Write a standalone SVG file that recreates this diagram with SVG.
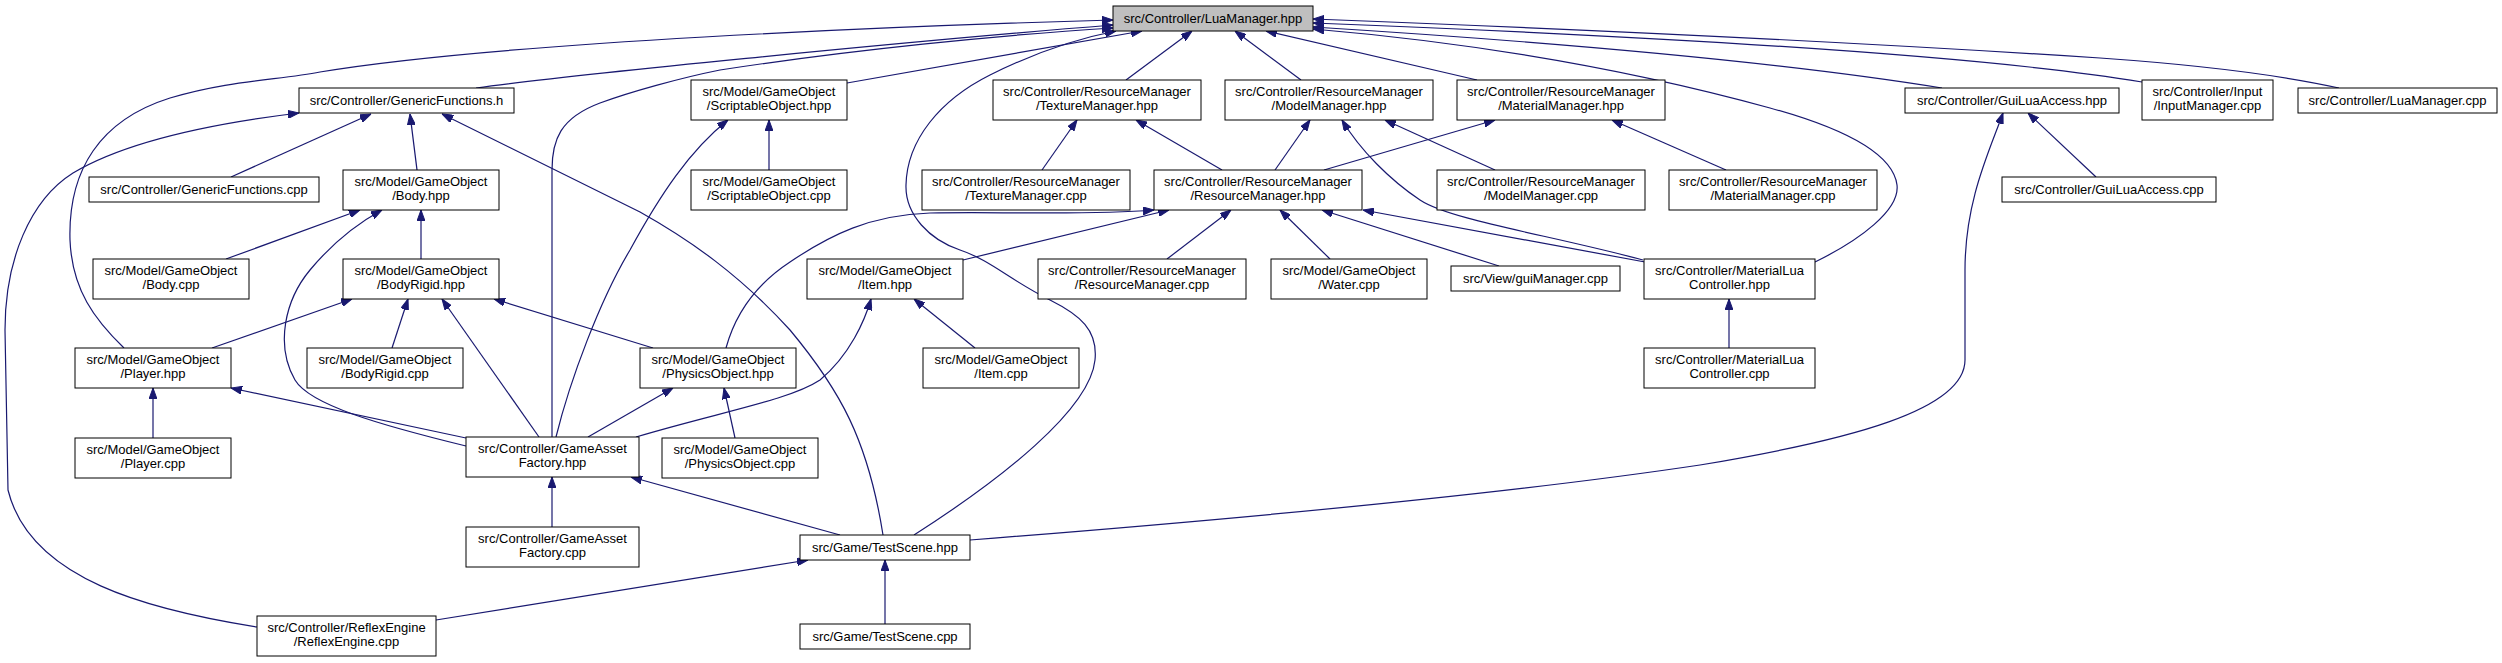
<svg xmlns="http://www.w3.org/2000/svg" width="2502" height="663" viewBox="0 0 2502 663">
<style>
.n rect{fill:#ffffff;stroke:#000000;stroke-width:1}
.n.root rect{fill:#bfbfbf}
.n text{font-family:"Liberation Sans",Arial,sans-serif;font-size:13px;text-anchor:middle;fill:#000000}
.e path{fill:none;stroke:#191970;stroke-width:1.2;marker-end:url(#arr)}
</style>
<defs>
<marker id="arr" markerWidth="11" markerHeight="8" refX="11" refY="4" orient="auto" markerUnits="userSpaceOnUse">
<path d="M0,0 L11,4 L0,8 z" fill="#191970" stroke="#191970" stroke-width="1"/>
</marker>
</defs>
<rect x="0" y="0" width="2502" height="663" fill="#ffffff"/>
<g id="edges" class="e">
<path d="M476,88 C560,76 900,42 1113,25"/>
<path d="M124,348 C95,320 72,290 70,240 C68,170 100,120 170,98 C230,80 280,80 320,72 C500,42 900,26 1113,20"/>
<path d="M257,627 C150,610 30,580 8,490 L5,330 C5,260 30,200 73,173 C120,145 200,125 299,113"/>
<path d="M231,177 L371,114"/>
<path d="M417,170 L410,114"/>
<path d="M883,535 C868,440 840,390 790,330 C740,275 690,240 640,212 L442,114"/>
<path d="M847,83 L1142,31"/>
<path d="M552,437 L552,170 C552,140 560,118 600,103 C630,92 680,78 720,70 C850,50 1000,35 1113,28"/>
<path d="M914,535 C1000,480 1090,410 1095,360 C1098,330 1080,315 1050,300 C1010,280 990,260 960,250 C930,240 905,215 906,185 C907,140 940,100 990,75 C1030,55 1070,40 1116,31"/>
<path d="M1126,80 L1192,31"/>
<path d="M1301,80 L1235,31"/>
<path d="M1477,80 L1266,31"/>
<path d="M1942,88 C1800,65 1600,45 1313,27"/>
<path d="M2142,82 C2000,58 1700,38 1313,23"/>
<path d="M2339,88 C2280,75 2200,65 2100,58 C1900,45 1600,30 1313,19"/>
<path d="M1815,262 C1860,240 1900,210 1897,185 C1893,155 1850,130 1770,108 C1650,75 1500,45 1313,29"/>
<path d="M2096,177 L2028,113"/>
<path d="M970,540 C1200,522 1500,495 1700,465 C1850,440 1965,410 1965,360 L1965,270 C1965,200 1990,150 2003,113"/>
<path d="M1275,170 L1310,120"/>
<path d="M1495,170 L1385,120"/>
<path d="M1643,260 C1550,235 1450,220 1420,200 C1390,180 1360,150 1342,120"/>
<path d="M1324,170 L1495,120"/>
<path d="M1726,170 L1612,120"/>
<path d="M1042,170 L1077,120"/>
<path d="M1222,170 L1136,120"/>
<path d="M769,170 L769,120"/>
<path d="M556,437 C570,380 600,300 630,250 C660,195 690,150 728,120"/>
<path d="M963,260 L1169,210"/>
<path d="M1167,259 L1231,210"/>
<path d="M1330,259 L1280,210"/>
<path d="M1499,266 L1322,210"/>
<path d="M1645,262 L1363,210"/>
<path d="M726,348 C735,315 755,285 790,262 C830,235 870,215 930,213 C1000,211 1080,216 1154,210"/>
<path d="M636,437 C720,412 790,400 820,380 C850,355 865,320 871,299"/>
<path d="M975,348 L914,299"/>
<path d="M226,259 L360,210"/>
<path d="M421,259 L421,210"/>
<path d="M466,446 C380,425 310,405 295,380 C275,345 285,300 310,270 C335,240 360,222 382,210"/>
<path d="M212,348 L352,299"/>
<path d="M392,348 L408,299"/>
<path d="M539,437 L442,299"/>
<path d="M653,348 L494,299"/>
<path d="M466,438 L231,388"/>
<path d="M153,438 L153,388"/>
<path d="M552,527 L552,477"/>
<path d="M588,437 L673,388"/>
<path d="M735,438 L724,388"/>
<path d="M840,535 L631,477"/>
<path d="M436,620 L808,560"/>
<path d="M885,624 L885,560"/>
<path d="M1729,348 L1729,299"/>
</g>
<g id="n0" class="n root"><rect x="1113" y="6" width="200" height="25"/><text x="1213" y="23">src/Controller/LuaManager.hpp</text></g>
<g id="n1" class="n"><rect x="299" y="88" width="215" height="25"/><text x="406.5" y="105">src/Controller/GenericFunctions.h</text></g>
<g id="n2" class="n"><rect x="691" y="80" width="156" height="40"/><text x="769" y="96">src/Model/GameObject</text><text x="769" y="110">/ScriptableObject.hpp</text></g>
<g id="n3" class="n"><rect x="993" y="80" width="208" height="40"/><text x="1097" y="96">src/Controller/ResourceManager</text><text x="1097" y="110">/TextureManager.hpp</text></g>
<g id="n4" class="n"><rect x="1225" y="80" width="208" height="40"/><text x="1329" y="96">src/Controller/ResourceManager</text><text x="1329" y="110">/ModelManager.hpp</text></g>
<g id="n5" class="n"><rect x="1457" y="80" width="208" height="40"/><text x="1561" y="96">src/Controller/ResourceManager</text><text x="1561" y="110">/MaterialManager.hpp</text></g>
<g id="n6" class="n"><rect x="1905" y="88" width="214" height="25"/><text x="2012" y="105">src/Controller/GuiLuaAccess.hpp</text></g>
<g id="n7" class="n"><rect x="2142" y="80" width="131" height="40"/><text x="2207.5" y="96">src/Controller/Input</text><text x="2207.5" y="110">/InputManager.cpp</text></g>
<g id="n8" class="n"><rect x="2298" y="88" width="199" height="25"/><text x="2397.5" y="105">src/Controller/LuaManager.cpp</text></g>
<g id="n9" class="n"><rect x="89" y="177" width="230" height="25"/><text x="204" y="194">src/Controller/GenericFunctions.cpp</text></g>
<g id="n10" class="n"><rect x="343" y="170" width="156" height="40"/><text x="421" y="186">src/Model/GameObject</text><text x="421" y="200">/Body.hpp</text></g>
<g id="n11" class="n"><rect x="691" y="170" width="156" height="40"/><text x="769" y="186">src/Model/GameObject</text><text x="769" y="200">/ScriptableObject.cpp</text></g>
<g id="n12" class="n"><rect x="922" y="170" width="208" height="40"/><text x="1026" y="186">src/Controller/ResourceManager</text><text x="1026" y="200">/TextureManager.cpp</text></g>
<g id="n13" class="n"><rect x="1154" y="170" width="208" height="40"/><text x="1258" y="186">src/Controller/ResourceManager</text><text x="1258" y="200">/ResourceManager.hpp</text></g>
<g id="n14" class="n"><rect x="1437" y="170" width="208" height="40"/><text x="1541" y="186">src/Controller/ResourceManager</text><text x="1541" y="200">/ModelManager.cpp</text></g>
<g id="n15" class="n"><rect x="1669" y="170" width="208" height="40"/><text x="1773" y="186">src/Controller/ResourceManager</text><text x="1773" y="200">/MaterialManager.cpp</text></g>
<g id="n16" class="n"><rect x="2002" y="177" width="214" height="25"/><text x="2109" y="194">src/Controller/GuiLuaAccess.cpp</text></g>
<g id="n17" class="n"><rect x="93" y="259" width="156" height="40"/><text x="171" y="275">src/Model/GameObject</text><text x="171" y="289">/Body.cpp</text></g>
<g id="n18" class="n"><rect x="343" y="259" width="156" height="40"/><text x="421" y="275">src/Model/GameObject</text><text x="421" y="289">/BodyRigid.hpp</text></g>
<g id="n19" class="n"><rect x="807" y="259" width="156" height="40"/><text x="885" y="275">src/Model/GameObject</text><text x="885" y="289">/Item.hpp</text></g>
<g id="n20" class="n"><rect x="1038" y="259" width="208" height="40"/><text x="1142" y="275">src/Controller/ResourceManager</text><text x="1142" y="289">/ResourceManager.cpp</text></g>
<g id="n21" class="n"><rect x="1271" y="259" width="156" height="40"/><text x="1349" y="275">src/Model/GameObject</text><text x="1349" y="289">/Water.cpp</text></g>
<g id="n22" class="n"><rect x="1451" y="266" width="169" height="25"/><text x="1535.5" y="283">src/View/guiManager.cpp</text></g>
<g id="n23" class="n"><rect x="1644" y="259" width="171" height="40"/><text x="1729.5" y="275">src/Controller/MaterialLua</text><text x="1729.5" y="289">Controller.hpp</text></g>
<g id="n24" class="n"><rect x="75" y="348" width="156" height="40"/><text x="153" y="364">src/Model/GameObject</text><text x="153" y="378">/Player.hpp</text></g>
<g id="n25" class="n"><rect x="307" y="348" width="156" height="40"/><text x="385" y="364">src/Model/GameObject</text><text x="385" y="378">/BodyRigid.cpp</text></g>
<g id="n26" class="n"><rect x="640" y="348" width="156" height="40"/><text x="718" y="364">src/Model/GameObject</text><text x="718" y="378">/PhysicsObject.hpp</text></g>
<g id="n27" class="n"><rect x="923" y="348" width="156" height="40"/><text x="1001" y="364">src/Model/GameObject</text><text x="1001" y="378">/Item.cpp</text></g>
<g id="n28" class="n"><rect x="1644" y="348" width="171" height="40"/><text x="1729.5" y="364">src/Controller/MaterialLua</text><text x="1729.5" y="378">Controller.cpp</text></g>
<g id="n29" class="n"><rect x="75" y="438" width="156" height="40"/><text x="153" y="454">src/Model/GameObject</text><text x="153" y="468">/Player.cpp</text></g>
<g id="n30" class="n"><rect x="466" y="437" width="173" height="40"/><text x="552.5" y="453">src/Controller/GameAsset</text><text x="552.5" y="467">Factory.hpp</text></g>
<g id="n31" class="n"><rect x="662" y="438" width="156" height="40"/><text x="740" y="454">src/Model/GameObject</text><text x="740" y="468">/PhysicsObject.cpp</text></g>
<g id="n32" class="n"><rect x="466" y="527" width="173" height="40"/><text x="552.5" y="543">src/Controller/GameAsset</text><text x="552.5" y="557">Factory.cpp</text></g>
<g id="n33" class="n"><rect x="800" y="535" width="170" height="25"/><text x="885" y="552">src/Game/TestScene.hpp</text></g>
<g id="n34" class="n"><rect x="257" y="616" width="179" height="40"/><text x="346.5" y="632">src/Controller/ReflexEngine</text><text x="346.5" y="646">/ReflexEngine.cpp</text></g>
<g id="n35" class="n"><rect x="800" y="624" width="170" height="25"/><text x="885" y="641">src/Game/TestScene.cpp</text></g>
</svg>
